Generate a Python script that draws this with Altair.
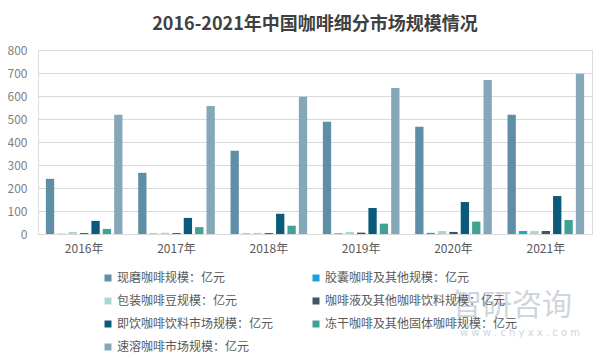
import altair as alt
import pandas as pd

years = ["2016年", "2017年", "2018年", "2019年", "2020年", "2021年"]
series = [
    "现磨咖啡规模：亿元",
    "胶囊咖啡及其他规模：亿元",
    "包装咖啡豆规模：亿元",
    "咖啡液及其他咖啡饮料规模：亿元",
    "即饮咖啡饮料市场规模：亿元",
    "冻干咖啡及其他固体咖啡规模：亿元",
    "速溶咖啡市场规模：亿元",
]
colors = ["#5f8fa6", "#1ea0dc", "#a8d8d4", "#3b5664", "#0b5a7c", "#3fa295", "#84a8ba"]

xianmo = [240, 266, 362, 488, 466, 518]
jiaonang = [1, 2, 2, 3, 5, 13]
baozhuang = [9, 5, 5, 9, 13, 13]
kafeiye = [4, 4, 4, 6, 9, 13]
jiyin = [57, 70, 88, 113, 139, 165]
donggan = [22, 30, 36, 45, 54, 61]
surong = [518, 557, 597, 635, 670, 697]

values = [xianmo, jiaonang, baozhuang, kafeiye, jiyin, donggan, surong]
rows = []
for s, vals in zip(series, values):
    for y, v in zip(years, vals):
        rows.append({"年份": y, "类别": s, "值": v})
df = pd.DataFrame(rows)

bars = alt.Chart(df).mark_bar().encode(
    x=alt.X("年份:N", sort=years, title=None,
            scale=alt.Scale(paddingInner=0, paddingOuter=0),
            axis=alt.Axis(labelAngle=0, labelFontSize=12, labelColor="#595959",
                          labelPadding=9, ticks=False, domain=True,
                          domainColor="#d9d9d9", grid=False,
                          labelFont="Noto Sans CJK SC")),
    xOffset=alt.XOffset("类别:N", sort=series,
                        scale=alt.Scale(paddingInner=0.27, paddingOuter=0.69)),
    y=alt.Y("值:Q", title=None,
            scale=alt.Scale(domain=[0, 800]),
            axis=alt.Axis(values=[0, 100, 200, 300, 400, 500, 600, 700, 800],
                          labelFontSize=12, labelColor="#7f7f7f", labelPadding=11,
                          ticks=False, domain=False, grid=True, gridColor="#d9d9d9",
                          labelFont="Noto Sans CJK SC")),
    color=alt.Color("类别:N", sort=series,
                    scale=alt.Scale(domain=series, range=colors),
                    legend=alt.Legend(title=None, orient="none", legendX=64, legendY=222,
                                      direction="horizontal",
                                      columns=2, columnPadding=36, rowPadding=11,
                                      symbolType="square", symbolSize=49,
                                      symbolStrokeWidth=0, labelOffset=3,
                                      labelFontSize=12, labelColor="#595959",
                                      labelFont="Noto Sans CJK SC", labelLimit=300,
                                      padding=0)),
)

wm = pd.DataFrame({"t": ["智研咨询"], "u": ["w w w . c h y x x . c o m"]})
wm1 = alt.Chart(wm).mark_text(fontSize=30, color="#cfd5dc", align="left",
                              baseline="middle", font="Noto Sans CJK SC").encode(
    text="t:N", x=alt.value(414), y=alt.value(256))
wm2 = alt.Chart(wm).mark_text(fontSize=10, color="#cfd5dc", align="left",
                              baseline="middle", font="DejaVu Sans").encode(
    text="u:N", x=alt.value(422), y=alt.value(283))

chart = alt.layer(bars, wm1, wm2).properties(
    width=554, height=184,
    title=alt.TitleParams("2016-2021年中国咖啡细分市场规模情况", fontSize=18,
                          font="Noto Sans CJK SC", fontWeight="bold",
                          color="#404040", offset=10, anchor="middle"),
    autosize=alt.AutoSizeParams(type="none"),
    padding={"left": 30, "top": 42, "right": 6, "bottom": 121},
).configure_view(stroke=None).configure(background="white")

chart.save("out.html", embed_options={"renderer": "svg", "actions": False})
